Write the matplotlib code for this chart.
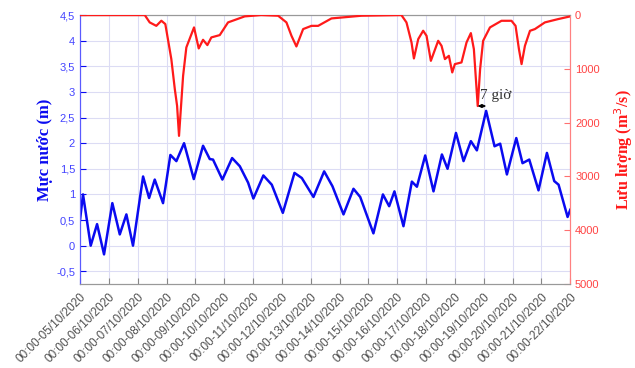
import matplotlib
matplotlib.use('Agg')
import matplotlib.pyplot as plt
import matplotlib.dates as mdates
from matplotlib.ticker import FuncFormatter
from datetime import datetime, timedelta


START = datetime(2020, 10, 5)
END = datetime(2020, 10, 22)

# water level (m), hours since START
level_hours = [0, 2.5, 8.9, 14.2, 20.0, 26.9, 33.1, 38.6, 44.1, 52.5, 57.5,
               62.2, 69.1, 75.2, 80.2, 86.6, 94.7, 102.4, 108.0, 110.7, 118.5,
               126.6, 133.0, 139.9, 144.3, 152.6, 159.6, 168.8, 178.5, 184.6,
               194.3, 203.2, 210.1, 219.3, 227.6, 233.2, 244.2, 252.1, 257.3,
               261.7, 269.2, 276.2, 280.4, 287.3, 294.2, 301.2, 305.9, 312.9,
               319.2, 325.3, 330.3, 338.0, 345.0, 349.7, 355.3, 363.1, 368.3,
               373.9, 381.6, 388.6, 394.7, 398.3, 405.8, 408.0]
level_m = [0.5, 1.0, 0.0, 0.42, -0.17, 0.83, 0.22, 0.61, 0.0, 1.35, 0.93,
           1.29, 0.83, 1.77, 1.65, 2.0, 1.30, 1.95, 1.69, 1.68, 1.29,
           1.71, 1.55, 1.23, 0.92, 1.37, 1.19, 0.64, 1.42, 1.32,
           0.95, 1.45, 1.16, 0.61, 1.11, 0.95, 0.24, 1.0, 0.77,
           1.06, 0.38, 1.25, 1.15, 1.76, 1.06, 1.78, 1.50, 2.2,
           1.65, 2.04, 1.86, 2.63, 1.94, 1.99, 1.39, 2.1, 1.61,
           1.68, 1.08, 1.81, 1.26, 1.19, 0.56, 0.70]

# discharge (m3/s), hours since START
flow_hours = [0, 53.9, 58.0, 63.5, 67.7, 71.0, 76.0, 78.9, 80.8, 82.4, 85.8,
              88.5, 94.9, 98.8, 102.4, 106.0, 109.3, 116.3, 123.2, 137.1,
              150.7, 164.9, 171.8, 176.0, 180.1, 185.7, 192.6, 198.2, 209.3,
              234.2, 267.5, 271.7, 275.9, 277.9, 281.5, 285.6, 288.4, 292.0,
              298.1, 300.9, 303.7, 307.0, 309.8, 312.0, 317.5, 321.7, 325.3,
              327.8, 331.0, 333.0, 335.5, 341.2, 350.8, 359.1, 362.5, 365.3,
              367.5, 370.3, 374.5, 378.6, 386.9, 398.0, 408.0]
flow_m3s = [0, 0, 136, 200, 105, 167, 818, 1376, 1687, 2245, 1129,
            601, 229, 620, 459, 558, 415, 372, 136, 24,
            0, 12, 136, 385, 583, 260, 200, 200, 62,
            12, 0, 136, 508, 806, 446, 291, 385, 850,
            478, 571, 818, 757, 1066, 911, 880, 508, 335,
            632, 1690, 1004, 478, 229, 106, 106, 200, 632,
            911, 571, 292, 260, 136, 74, 24]

lag_hours = 7

BLUE = '#0a0af0'
RED = '#ff1a1a'
GRID = '#dcdcf4'

level_t = [START + timedelta(hours=h) for h in level_hours]
flow_t = [START + timedelta(hours=h) for h in flow_hours]

fig = plt.figure(figsize=(6.35, 3.68), dpi=100)
ax = fig.add_axes([0.126, 0.228, 0.772, 0.731])
ax2 = ax.twinx()

ax.plot(level_t, level_m, color=BLUE, lw=1.8, solid_joinstyle='round', zorder=3)
ax2.plot(flow_t, flow_m3s, color=RED, lw=1.6, solid_joinstyle='round', zorder=3)

ax.set_xlim(START, END)
ax.set_ylim(-0.75, 4.5)
ax.set_yticks([-0.5 + 0.5 * i for i in range(11)])
ax.yaxis.set_major_formatter(FuncFormatter(lambda v, _: f'{v:g}'.replace('.', ',')))
ax2.set_ylim(5000, 0)
ax2.set_yticks(range(0, 5001, 1000))

ax.xaxis.set_major_locator(mdates.DayLocator())
ax.xaxis.set_major_formatter(mdates.DateFormatter('%H:%M-%d/%m/%Y'))

ax.grid(True, color=GRID, lw=0.8)
ax.set_axisbelow(True)

ax.tick_params(axis='x', direction='in', length=4, colors='#888888',
               labelcolor='#505050', labelsize=8.5, pad=5)
ax.tick_params(axis='y', direction='in', length=4, colors=BLUE,
               labelcolor='#4444ff', labelsize=8)
ax2.tick_params(axis='y', direction='in', length=4, colors='#ff7070',
                labelcolor='#ff4444', labelsize=8)
for lbl in ax.get_xticklabels():
    lbl.set_rotation(45)
    lbl.set_ha('right')
    lbl.set_va('top')
    lbl.set_rotation_mode('anchor')
for lbl in ax.get_xticklabels() + ax.get_yticklabels() + ax2.get_yticklabels():
    lbl.set_fontfamily('Liberation Sans')

for a in (ax, ax2):
    a.spines['top'].set_color('#999999')
    a.spines['bottom'].set_color('#999999')
    a.spines['left'].set_color('#5a5aff')
    a.spines['right'].set_color('#ff8080')

ax.set_ylabel('Mực nước (m)', color=BLUE, fontsize=12, fontweight='bold',
              family='Liberation Serif', labelpad=2)
ax2.set_ylabel('Lưu lượng (m$^3$/s)', color=RED, fontsize=11.5, fontweight='bold',
               family='Liberation Serif', labelpad=9, rotation=90)

# lag between discharge peak and water level peak
i_peak = max(range(len(flow_m3s)), key=lambda i: flow_m3s[i] if flow_hours[i] > 300 else -1)
t0 = flow_t[i_peak]
t1 = t0 + timedelta(hours=lag_hours)
ax2.annotate('', xy=(t1, flow_m3s[i_peak]), xytext=(t0, flow_m3s[i_peak]),
             arrowprops=dict(arrowstyle='<|-|>', color='black', lw=0.8,
                             mutation_scale=5, shrinkA=0, shrinkB=0))
ax2.text(t0 + timedelta(hours=2), flow_m3s[i_peak] - 80, f'{lag_hours} giờ',
         family='Liberation Serif', fontsize=11, color='#333333',
         ha='left', va='bottom')

fig.savefig('out.png', dpi=100)
